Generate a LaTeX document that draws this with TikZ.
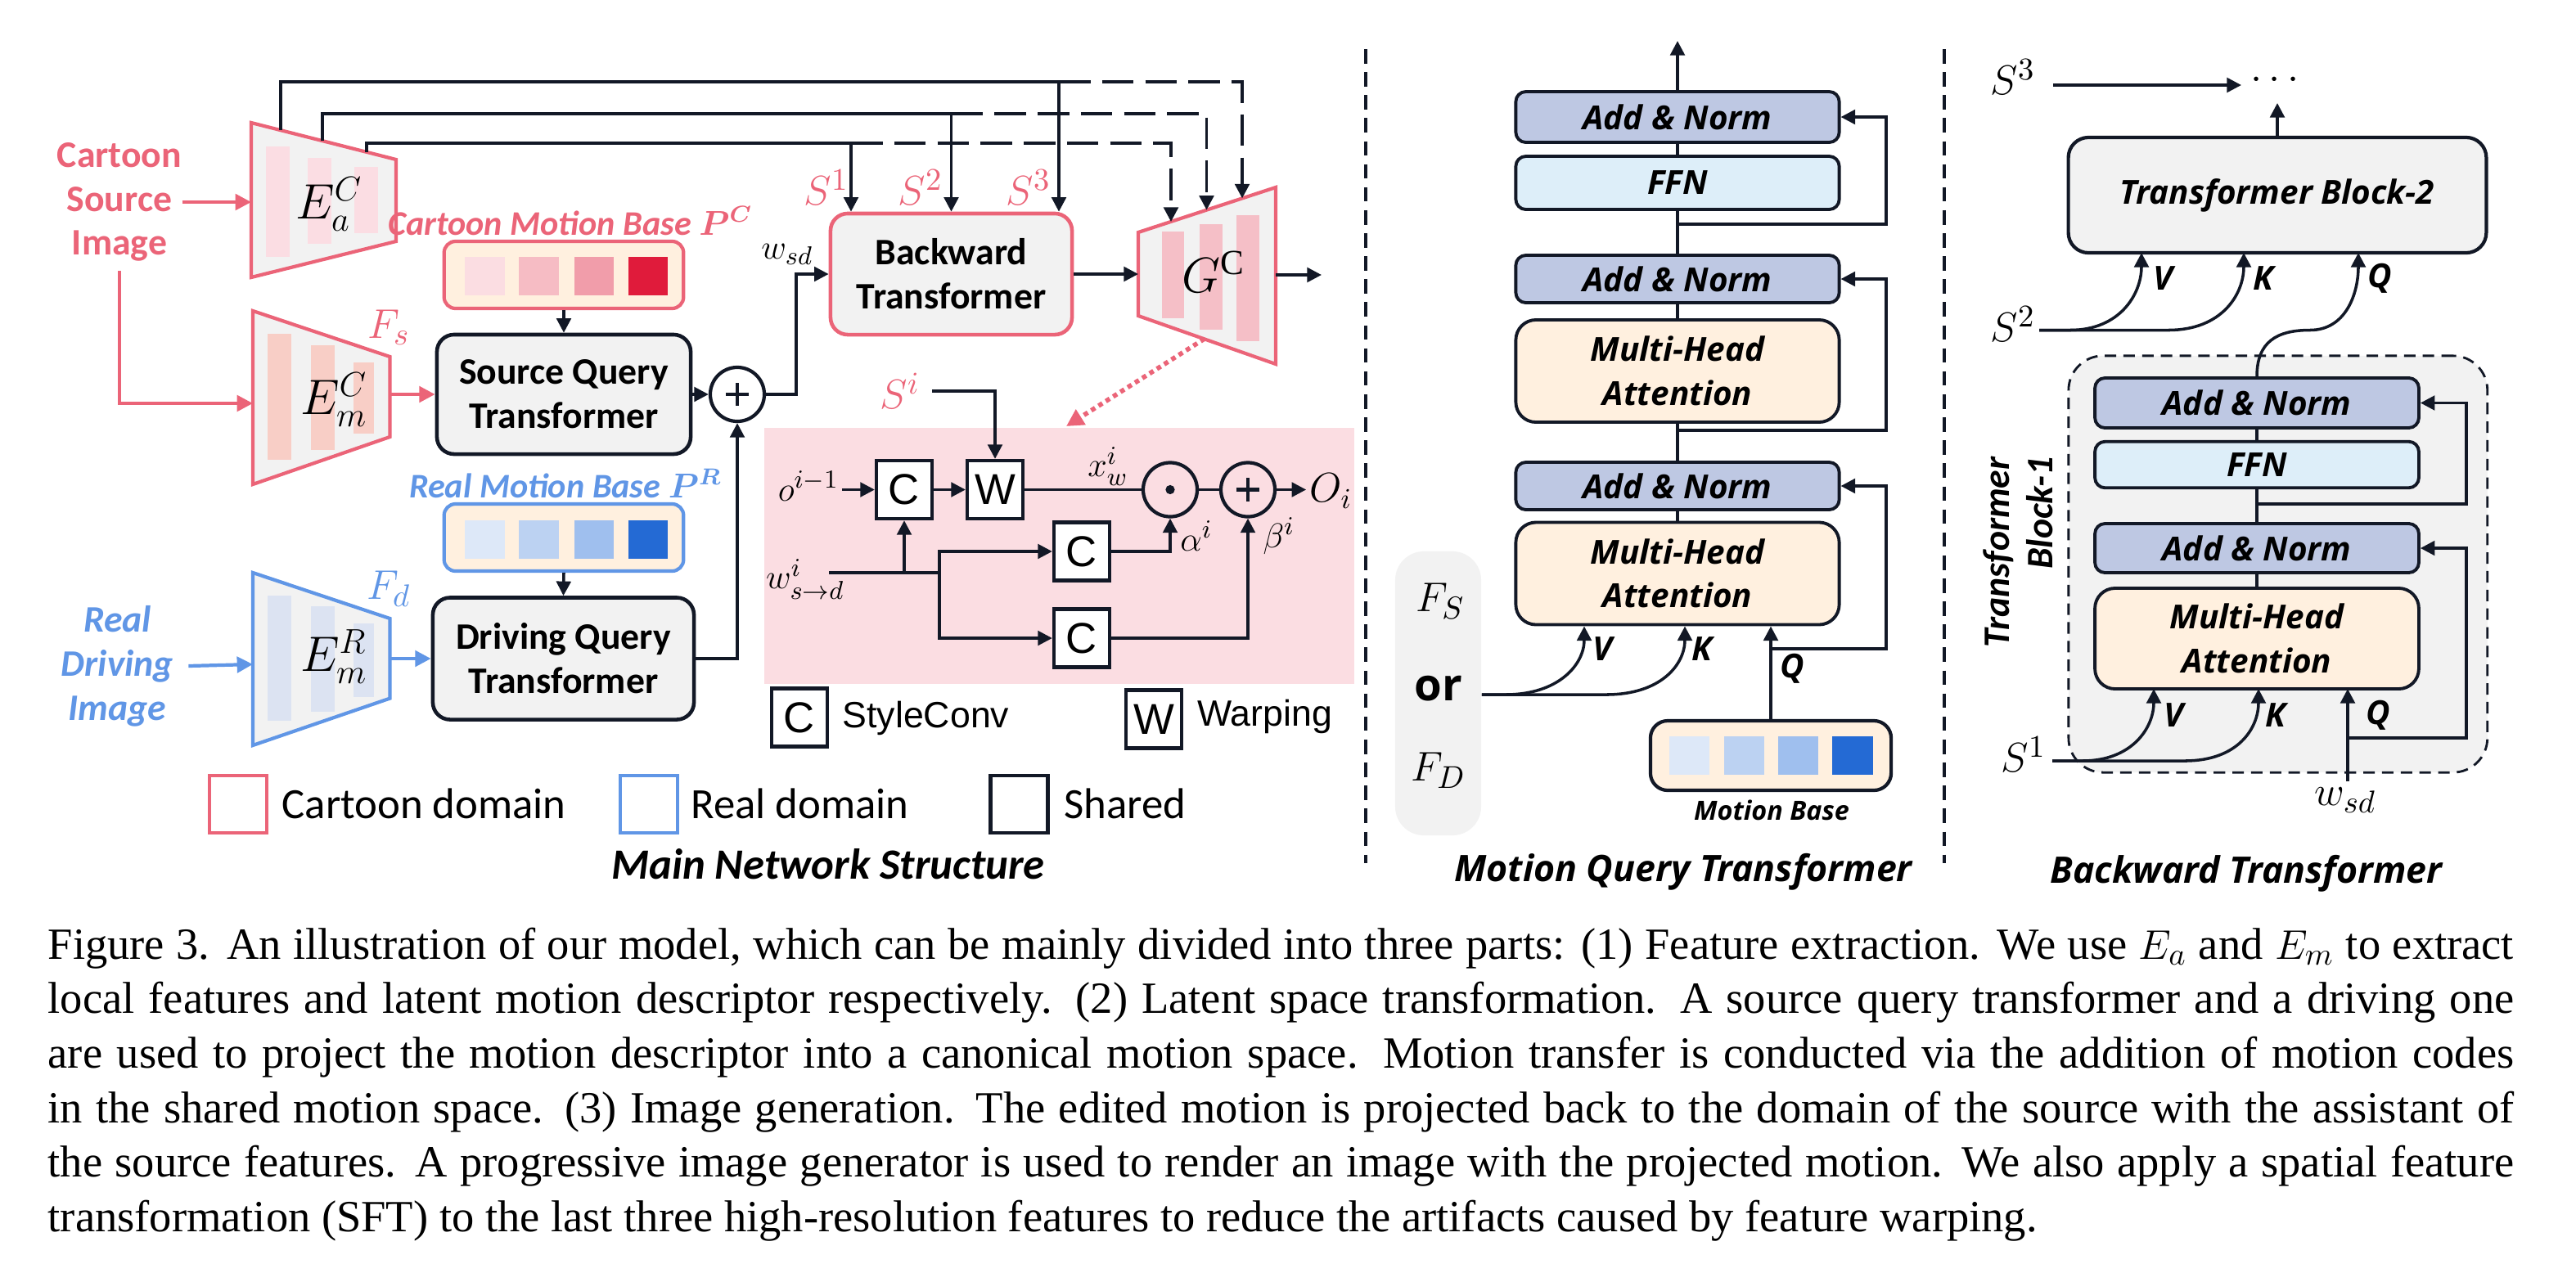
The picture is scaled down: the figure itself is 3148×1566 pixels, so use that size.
\documentclass[tikz,border=0pt]{standalone}
\usepackage{fontspec}
\usepackage{bm}
\setmainfont{Liberation Serif}
\newfontfamily\carl{Carlito}
\newfontfamily\osans{Open Sans}
\newfontfamily\arial{Liberation Sans}
\usetikzlibrary{arrows.meta,calc}
\definecolor{dk}{HTML}{121826}
\definecolor{pk}{RGB}{235,100,120}
\definecolor{bl}{RGB}{96,150,230}
\definecolor{gfill}{HTML}{F2F2F2}
\definecolor{cream}{HTML}{FFF0DF}
\definecolor{lav}{HTML}{BEC8E3}
\definecolor{ffnc}{HTML}{DDEEF9}
\definecolor{sftc}{HTML}{FBDDE2}
\definecolor{barA}{HTML}{FBDDE3}
\definecolor{barM}{HTML}{F8CEC6}
\definecolor{barG}{HTML}{F5BFC7}
\definecolor{barR}{HTML}{DCE3F2}
\definecolor{pA}{HTML}{FBDDE2}
\definecolor{pB}{HTML}{F6BCC4}
\definecolor{pC}{HTML}{F19DAA}
\definecolor{pD}{HTML}{E01B3B}
\definecolor{bA}{HTML}{DDE8F8}
\definecolor{bB}{HTML}{BCD2F2}
\definecolor{bC}{HTML}{9FBFEE}
\definecolor{bD}{HTML}{246AD4}
\begin{document}
\begin{tikzpicture}[x=0.01cm,y=-0.01cm,
  ln/.style={draw=dk,line width=1pt},
  arr/.style={ln,-{Triangle[length=5pt,width=5pt]}},
  parr/.style={draw=pk,line width=1.2pt,-{Triangle[length=5.5pt,width=5.5pt]}},
  barr/.style={draw=bl,line width=1.2pt,-{Triangle[length=5.5pt,width=5.5pt]}},
  dsh/.style={dash pattern=on 11pt off 4pt},
  trapz/.style={line width=1.2pt,fill=gfill},
  qbox/.style={draw=dk,line width=1.3pt,fill=gfill,rounded corners=6pt,align=center,inner sep=0pt,font=\carl\bfseries\fontsize{13}{15.4}\selectfont},
  mbase/.style={line width=1.2pt,fill=cream,rounded corners=4pt,minimum width=2.925cm,minimum height=0.82cm,inner sep=0pt},
  elab/.style={font=\fontsize{17.5}{17.5}\selectfont,inner sep=0pt},
  mlab/.style={font=\fontsize{13}{13}\selectfont,inner sep=0pt},
  slab/.style={font=\fontsize{15.5}{15.5}\selectfont,inner sep=0pt,text=pk},
  sbox/.style={draw=dk,line width=1.2pt,fill=white,minimum width=0.68cm,minimum height=0.71cm,inner sep=0pt,font=\arial\fontsize{15}{15}\selectfont},
  opc/.style={circle,draw=dk,line width=1.2pt,minimum size=0.66cm,inner sep=0pt},
  pluscirc/.style={opc,path picture={\draw[dk,line width=1.3pt] ([xshift=-4pt]path picture bounding box.center) -- ([xshift=4pt]path picture bounding box.center) ([yshift=-4pt]path picture bounding box.center) -- ([yshift=4pt]path picture bounding box.center);}},
  dotcirc/.style={opc,path picture={\fill[dk] (path picture bounding box.center) circle[radius=1.6pt];}},
  legsq/.style={line width=1.3pt,minimum size=0.70cm,inner sep=0pt},
  legtxt/.style={anchor=base west,inner sep=0pt,font=\carl\fontsize{15}{15}\selectfont},
  tf/.style={font=\osans\bfseries\itshape\fontsize{11.5}{15.2}\selectfont,align=center},
  anb/.style={tf,draw=dk,line width=1.1pt,fill=lav,rounded corners=3.5pt,minimum width=3.95cm,minimum height=0.60cm,inner sep=0pt},
  ffb/.style={anb,fill=ffnc},
  mhb/.style={anb,fill=cream,rounded corners=7pt,minimum height=1.25cm},
  vkq/.style={font=\osans\bfseries\itshape\fontsize{11.5}{11.5}\selectfont,inner sep=0pt},
  ttl/.style={anchor=base,inner sep=0pt,font=\osans\bfseries\itshape\fontsize{12.7}{12.7}\selectfont},
  divl/.style={draw=dk,line width=1.1pt,dash pattern=on 5pt off 3pt}
]
\fill[white] (0,0) rectangle (3148,1566);
\useasboundingbox (0,0) rectangle (3148,1566);

% ================= Main network =================
\filldraw[trapz,draw=pk] (307,150) -- (484,195) -- (484,295) -- (307,339) -- cycle;
\fill[barA] (325,179) rectangle (354,314);
\fill[barA] (376,193) rectangle (405,298);
\fill[barA] (433,204) rectangle (462,285);
\node[elab] (ea) at (402,250) {$E_a^C$};

\filldraw[trapz,draw=pk] (309,380) -- (476.5,436) -- (476.5,534) -- (309,592) -- cycle;
\fill[barM] (327,408) rectangle (356,562);
\fill[barM] (380,422) rectangle (409,550);
\fill[barM] (432,443) rectangle (457,530);
\node[elab] (emc) at (408,489) {$E_m^C$};
\node[slab] (fs) at (475,400) {$F_s$};

\filldraw[trapz,draw=bl] (309,700) -- (476.5,756) -- (476.5,853.6) -- (309,911) -- cycle;
\fill[barR] (327,728) rectangle (356,881);
\fill[barR] (380,741) rectangle (409,870);
\fill[barR] (432,762) rectangle (457,852);
\node[elab] (emr) at (408,803) {$E_m^R$};
\node[slab,text=bl] (fd) at (475,720) {$F_d$};

\filldraw[trapz,draw=pk] (1391,284) -- (1559,229) -- (1559,445) -- (1391,386) -- cycle;
\fill[barG] (1420,283) rectangle (1447,389);
\fill[barG] (1466,274) rectangle (1494,403);
\fill[barG] (1511,263) rectangle (1539,417);
\node[elab] (gc) at (1483,332) {$G^{\mathrm{C}}$};

\coordinate (eaw) at (307,247);
\coordinate (emw) at (309,493);
\coordinate (eme) at (476.5,482);
\coordinate (emrw) at (309,812);
\coordinate (emre) at (476.5,805);
\coordinate (gw) at (1391,335);
\coordinate (ge) at (1559,336);
\coordinate (gout) at (1615,336);
\coordinate (gb) at (1472,414);

% input texts
\node[font=\carl\bfseries\fontsize{13}{15.3}\selectfont,text=pk,align=center,inner sep=0pt] (csi) at (146,247) {Cartoon\\Source\\Image};
\node[font=\carl\bfseries\itshape\fontsize{13}{15.3}\selectfont,text=bl,align=center,inner sep=0pt] (rdi) at (143.5,814) {Real\\Driving\\Image};

% boxes
\node[qbox,draw=pk,minimum width=2.95cm,minimum height=1.48cm] (bwd) at (1162.5,335) {Backward\\Transformer};
\node[qbox,minimum width=3.10cm,minimum height=1.46cm] (sq) at (689,482) {Source Query\\Transformer};
\node[qbox,minimum width=3.19cm,minimum height=1.49cm] (dq) at (688.5,805) {Driving Query\\Transformer};

\node[mbase,draw=pk] (pc) at (689,336) {};
\fill[pA] (568,314) rectangle (617,361);
\fill[pB] (634,314) rectangle (683,361);
\fill[pC] (701.5,314) rectangle (750,361);
\fill[pD] (768,314) rectangle (816,361);
\node[anchor=base,inner sep=0pt,text=pk,font=\carl\bfseries\itshape\fontsize{12}{12}\selectfont] (pcl) at (697,287) {Cartoon Motion Base $\bm{P^C}$};

\node[mbase,draw=bl] (pr) at (689,657) {};
\fill[bA] (568,636) rectangle (617,683);
\fill[bB] (634,636) rectangle (683,683);
\fill[bC] (701.5,636) rectangle (750,683);
\fill[bD] (768,636) rectangle (816,683);
\node[anchor=base,inner sep=0pt,text=bl,font=\carl\bfseries\itshape\fontsize{12}{12}\selectfont] (prl) at (691,608) {Real Motion Base $\bm{P^R}$};

\node[pluscirc] (plus1) at (901,482) {};

% connectors
\draw[parr] (csi.east) -- (eaw);
\draw[parr] ([yshift=-3pt]csi.south) |- (emw);
\draw[parr] (eme) -- (sq.west);
\draw[barr] ([xshift=5pt]rdi.east) -- (emrw);
\draw[barr] (emre) -- (dq.west);
\draw[arr] (pc.south) -- (sq.north);
\draw[arr] (pr.south) -- (dq.north);
\draw[arr] (sq.east) -- (plus1.west);
\draw[arr] (dq.east) -| (plus1.south);
\draw[arr] (plus1.east) -- (973,482) |- (bwd.west);
\node[mlab] (wsd) at (962,311) {$w_{sd}$};
\draw[arr] (bwd.east) -- (gw);
\draw[arr] (ge) -- (gout);

% skip connections
\coordinate (b1) at (1040,175);
\coordinate (b2) at (1162.5,139);
\coordinate (b3) at (1294,100);
\coordinate (g1) at (1431,271);
\coordinate (g2) at (1474.5,256.7);
\coordinate (g3) at (1518,242.4);
\draw[ln] (343,159) |- (b3);
\draw[ln] (394,172) |- (b2);
\draw[ln] (448,186) |- (b1);
\draw[arr] (b1) -- (b1 |- bwd.north);
\draw[arr] (b2) -- (b2 |- bwd.north);
\draw[arr] (b3) -- (b3 |- bwd.north);
\draw[arr,dsh] (b1) -- (g1 |- b1) -- (g1);
\draw[arr,dsh] (b2) -- (g2 |- b2) -- (g2);
\draw[arr,dsh] (b3) -- (g3 |- b3) -- (g3);
\node[slab] (s1) at (1010,229) {$S^1$};
\node[slab] (s2) at (1125,229) {$S^2$};
\node[slab] (s3) at (1257,229) {$S^3$};

% legend
\node[legsq,draw=pk] (lg1) at (291,983) {};
\node[legtxt] (lt1) at (344,1000) {Cartoon domain};
\node[legsq,draw=bl] (lg2) at (793,983) {};
\node[legtxt] (lt2) at (844,1000) {Real domain};
\node[legsq,draw=dk] (lg3) at (1245.5,983) {};
\node[legtxt] (lt3) at (1300,1000) {Shared};
\node[anchor=base,inner sep=0pt,font=\carl\bfseries\itshape\fontsize{15}{15}\selectfont] (mns) at (1012,1074) {Main Network Structure};

% ---------- SFT detail ----------
\fill[sftc] (934,523) rectangle (1655,835.5);
\coordinate (sftp) at (1303,521);
\draw[pk,line width=1.6pt,dash pattern=on 1.6pt off 1.4pt,-{Triangle[length=6pt,width=6pt]}] (gb) -- (sftp);

\node[slab] (si) at (1100,478) {$S^i$};
\node[sbox] (c1) at (1105,598.5) {C};
\node[sbox] (w1) at (1216,598.5) {W};
\draw[arr] ([xshift=4pt]si.east) -| (w1.north);
\node[mlab] (oim) at (988,594) {$o^{i-1}$};
\draw[arr] ($(c1.west)+(-40,0)$) -- (c1.west);
\draw[arr] (c1.east) -- (w1.west);
\node[dotcirc] (dot1) at (1430,598.5) {};
\node[pluscirc] (plus2) at (1525,598.5) {};
\draw[ln] (w1.east) -- (dot1.west);
\draw[ln] (dot1.east) -- (plus2.west);
\draw[arr] (plus2.east) -- ++(36,0) coordinate (oo);
\node[font=\fontsize{14}{14}\selectfont,inner sep=0pt,anchor=west] (oi) at (1600,600) {$O_i$};
\node[mlab] (xw) at (1354,570) {$x_w^i$};
\node[mlab] (wsdi) at (984,708) {$w^i_{s\to d}$};
\coordinate (wsplit) at (1105,700);
\coordinate (wb) at (1148,700);
\draw[ln] (1013,700) -- (wb);
\draw[arr] (wsplit) -- (c1.south);
\node[sbox] (c2) at (1322,674) {C};
\node[sbox] (c3) at (1322,780) {C};
\draw[arr] (wb) |- (c2.west);
\draw[arr] (wb) |- (c3.west);
\draw[arr] (c2.east) -| (dot1.south);
\draw[arr] (c3.east) -| (plus2.south);
\node[mlab] (al) at (1462,655) {$\alpha^i$};
\node[mlab] (be) at (1563,655) {$\beta^i$};

\node[sbox] (lc) at (977,877) {C};
\node[anchor=base west,inner sep=0pt,font=\arial\fontsize{12.7}{12.7}\selectfont] (lct) at (1029,889) {StyleConv};
\node[sbox] (lw) at (1410,879) {W};
\node[anchor=base west,inner sep=0pt,font=\arial\fontsize{12.7}{12.7}\selectfont] (lwt) at (1462.5,887) {Warping};

% dividers
\draw[divl] (1669,60) -- (1669,1055);
\draw[divl] (2376,60) -- (2376,1055);

% ================= Motion Query Transformer =================
\node[anb,minimum height=0.62cm] (an3) at (2050,143) {Add \& Norm};
\node[ffb,minimum height=0.65cm] (ffn) at (2050,223.5) {FFN};
\node[anb,minimum height=0.58cm] (an2) at (2050,341) {Add \& Norm};
\node[mhb] (mha2) at (2050,453.5) {Multi-Head\\Attention};
\node[anb,minimum height=0.58cm] (an1) at (2050,594) {Add \& Norm};
\node[mhb] (mha1) at (2050,701) {Multi-Head\\Attention};
\coordinate (mout) at (2050,50);
\draw[arr] (an3.north) -- (mout);
\draw[ln] (an3.south) -- (ffn.north);
\draw[ln] (ffn.south) -- (an2.north);
\draw[ln] (an2.south) -- (mha2.north);
\draw[ln] (mha2.south) -- (an1.north);
\draw[ln] (an1.south) -- (mha1.north);
\draw[arr] (2050,274) -- (2305,274) |- (an3.east);
\draw[arr] (2050,526) -- (2305,526) |- (an2.east);

\node[fill=gfill,rounded corners=10pt,minimum width=1.05cm,minimum height=3.47cm,inner sep=0pt] (fbox) at (1757.5,847.5) {};
\node[font=\fontsize{15.5}{15.5}\selectfont,inner sep=0pt] (fS) at (1760,735) {$F_S$};
\node[font=\osans\bfseries\fontsize{15.5}{15.5}\selectfont,inner sep=0pt] (orr) at (1757.6,842) {or};
\node[font=\fontsize{15.5}{15.5}\selectfont,inner sep=0pt] (fD) at (1757.6,942) {$F_D$};

\node[draw=dk,line width=1.2pt,fill=cream,rounded corners=6pt,minimum width=2.94cm,minimum height=0.85cm,inner sep=0pt] (mb) at (2164,923.5) {};
\fill[bA] (2040,899.6) rectangle (2089,947);
\fill[bB] (2107,899.6) rectangle (2155.5,947);
\fill[bC] (2172.7,899.6) rectangle (2221.5,947);
\fill[bD] (2239,899.6) rectangle (2288.5,947);
\node[font=\osans\bfseries\itshape\fontsize{9.2}{9.2}\selectfont,inner sep=0pt] (mbl) at (2165,990) {Motion Base};

\draw[arr] (mb.north) -- (mb.north |- mha1.south);
\draw[arr] (2164,793) -- (2305,793) |- (an1.east);
\draw[arr] (fbox.east |- 0,849) -- (1840,849) .. controls (1905,849) and (1936,812) .. ($(mha1.south)+(-114,0)$);
\draw[arr] (fbox.east |- 0,849) -- (1963,849) .. controls (2030,849) and (2059,812) .. ($(mha1.south)+(9,0)$);
\node[vkq] (mv) at (1958,793) {V};
\node[vkq] (mk) at (2080,793) {K};
\node[vkq] (mq) at (2190,817) {Q};
\node[ttl] (mqt) at (2057,1077) {Motion Query Transformer};

% ================= Backward Transformer =================
\node[draw=dk,line width=0.8pt,dash pattern=on 4pt off 2.5pt,fill=gfill,rounded corners=12pt,minimum width=5.116cm,minimum height=5.09cm,inner sep=0pt] (tb1) at (2783.8,689.5) {};
\node[tf,draw=dk,line width=1.2pt,fill=gfill,rounded corners=7pt,minimum width=5.105cm,minimum height=1.41cm,inner sep=0pt] (tb2) at (2783,238.5) {Transformer Block-2};
\node[font=\carl\bfseries\itshape\fontsize{13}{15}\selectfont,rotate=90,align=right,inner sep=0pt] (tb1l) at (2466,675) {Transformer\\Block-1};

\node[anb,minimum width=3.956cm,minimum height=0.61cm] (ban2) at (2758,492.5) {Add \& Norm};
\node[ffb,minimum width=3.956cm,minimum height=0.565cm] (bffn) at (2758,568) {FFN};
\node[anb,minimum width=3.956cm,minimum height=0.60cm] (ban1) at (2758,670) {Add \& Norm};
\node[mhb,minimum width=3.956cm,minimum height=1.23cm] (bmha) at (2758,780.5) {Multi-Head\\Attention};
\draw[ln] (ban2.south) -- (bffn.north);
\draw[ln] (bffn.south) -- (ban1.north);
\draw[ln] (ban1.south) -- (bmha.north);
\draw[arr] (2758,616) -- (3014,616) |- (ban2.east);
\draw[arr] (2869,902) -- (3014,902) |- (ban1.east);
\node[font=\fontsize{15.5}{15.5}\selectfont,inner sep=0pt] (wsd2) at (2866,978) {$w_{sd}$};
\draw[arr] (2869,955) -- (2869,842);

\node[font=\fontsize{15.5}{15.5}\selectfont,inner sep=0pt] (bs1) at (2473,922) {$S^1$};
\node[font=\fontsize{15.5}{15.5}\selectfont,inner sep=0pt] (bs2) at (2460,396) {$S^2$};
\node[font=\fontsize{15.5}{15.5}\selectfont,inner sep=0pt] (bs3) at (2460,94) {$S^3$};
\node[font=\fontsize{15.5}{15.5}\selectfont,inner sep=0pt] (dots) at (2780,98) {$\cdots$};
\draw[arr] (2509,104) -- (2739,104);
\draw[arr] (tb2.north) -- (2783,126);

\draw[arr] (2508,930) -- (2545,930) .. controls (2605,930) and (2632,890) .. (2632,842);
\draw[arr] (2508,930) -- (2670,930) .. controls (2735,930) and (2760,890) .. (2760,842);
\node[vkq] (bv1) at (2656,874) {V};
\node[vkq] (bk1) at (2781,874) {K};
\node[vkq] (bq1) at (2906,874) {Q};

\draw[arr] (2492,403.5) -- (2530,403.5) .. controls (2590,403.5) and (2617,360) .. (2617,309);
\draw[arr] (2492,403.5) -- (2650,403.5) .. controls (2715,403.5) and (2742,360) .. (2742,309);
\draw[arr] (ban2.north) .. controls (2758,418) and (2782,403.5) .. (2823,403.5) .. controls (2866,403.5) and (2882,360) .. (2882,309);
\node[vkq] (bv2) at (2643,340) {V};
\node[vkq] (bk2) at (2766,340) {K};
\node[vkq] (bq2) at (2908,340) {Q};
\node[ttl] (bwt) at (2745,1079) {Backward Transformer};

% ================= Caption =================
\node[anchor=north west,inner sep=0pt,text width=856.9pt,align=justify,font=\fontsize{15.5}{18.97}\selectfont] (cap) at (58,1133) {\hyphenpenalty=10000\emergencystretch=3em
Figure 3. An illustration of our model, which can be mainly divided into three parts: (1) Feature extraction. We use $E_a$ and $E_m$ to extract\linebreak
local features and latent motion descriptor respectively.  (2) Latent space transformation.  A source query transformer and a driving one\linebreak
are used to project the motion descriptor into a canonical motion space.  Motion transfer is conducted via the addition of motion codes\linebreak
in the shared motion space.  (3) Image generation.  The edited motion is projected back to the domain of the source with the assistant of\linebreak
the source features.  A progressive image generator is used to render an image with the projected motion.  We also apply a spatial feature\linebreak
transformation (SFT) to the last three high-resolution features to reduce the artifacts caused by feature warping.};
\end{tikzpicture}
\end{document}
